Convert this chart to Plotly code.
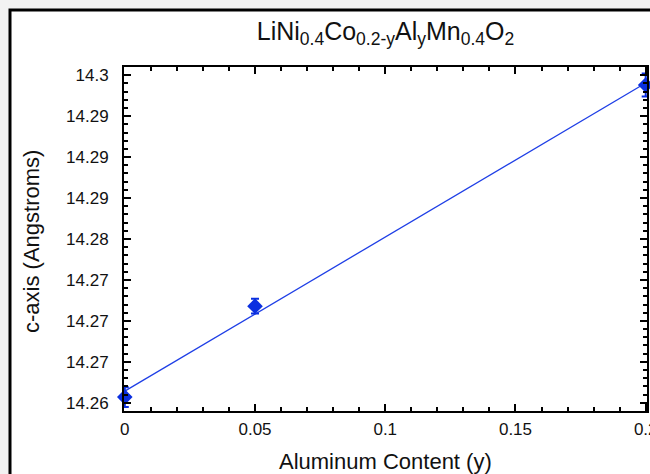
import numpy as np
import plotly.graph_objects as go

# Aluminium substitution level and refined c lattice parameter
al_content = [0.0, 0.05, 0.2]
c_axis = [14.2607, 14.2718, 14.2988]
c_err = [0.0012, 0.0009, 0.0014]

# y-axis tick positions and their printed labels (4 significant digits)
y_tickvals = [14.26, 14.265, 14.27, 14.275, 14.28, 14.285, 14.29, 14.295, 14.30]
y_ticktext = ["14.26", "14.27", "14.27", "14.27", "14.28", "14.29", "14.29", "14.29", "14.3"]
x_tickvals = [0, 0.05, 0.1, 0.15, 0.2]
x_ticktext = ["0", "0.05", "0.1", "0.15", "0.2"]

# least-squares straight line through the points
slope, intercept = np.polyfit(al_content, c_axis, 1)
fit_x = np.array([0.0, 0.2])
fit_y = slope * fit_x + intercept

BLUE = "#0a2fe0"
FONT = "Liberation Sans, Arial, sans-serif"

fig = go.Figure()
fig.add_trace(go.Scatter(
    x=fit_x, y=fit_y, mode="lines",
    line=dict(color="#1f3fe6", width=1.3),
    hoverinfo="skip", showlegend=False,
))
fig.add_trace(go.Scatter(
    x=al_content, y=c_axis, mode="markers",
    marker=dict(symbol="diamond", size=12, color=BLUE),
    error_y=dict(type="data", array=c_err, visible=True,
                 color=BLUE, thickness=2, width=4),
    showlegend=False, cliponaxis=False,
))

L, R, T, B = 124, 3, 67, 63
W, H = 650, 474
pw, ph = W - L - R, H - T - B

axis_common = dict(
    showline=True, linecolor="black", linewidth=2, mirror="ticks",
    ticks="inside", ticklen=7, tickwidth=1.5, tickcolor="black",
    showgrid=False, zeroline=False, automargin=False,
    tickfont=dict(family=FONT, size=17, color="#111"),
    ticklabeloverflow="allow",
)

fig.update_xaxes(
    **axis_common,
    range=[-0.0003, 0.2005],
    tickmode="array", tickvals=x_tickvals, ticktext=x_ticktext,
    ticklabelstandoff=2,
    minor=dict(dtick=0.01, tick0=0, ticks="inside", ticklen=4,
               tickwidth=1.5, tickcolor="black", showgrid=False),
)
fig.update_yaxes(
    **axis_common,
    range=[14.259, 14.301],
    tickmode="array", tickvals=y_tickvals, ticktext=y_ticktext,
    ticklabelstandoff=10,
    minor=dict(dtick=0.001, tick0=14.26, ticks="inside", ticklen=4,
               tickwidth=1.5, tickcolor="black", showgrid=False),
)

# axis titles placed in pixel terms relative to the plot area
fig.add_annotation(
    text="Aluminum Content (y)", xref="paper", yref="paper",
    x=(385 - L) / pw, y=(H - B - 461) / ph, showarrow=False,
    xanchor="center", yanchor="middle",
    font=dict(family=FONT, size=22, color="#111"),
)
fig.add_annotation(
    text="c-axis (Angstroms)", xref="paper", yref="paper",
    x=(31 - L) / pw, y=(H - B - 242) / ph, showarrow=False, textangle=-90,
    xanchor="center", yanchor="middle",
    font=dict(family=FONT, size=22, color="#111"),
)

# framed white panel behind the chart
fig.add_shape(
    type="rect", xref="paper", yref="paper", layer="below",
    x0=(10 - L) / pw, x1=(W + 40 - L) / pw,
    y0=(H - B - (H + 40)) / ph, y1=(H - B - 10) / ph,
    line=dict(color="black", width=3), fillcolor="white",
)

fig.update_layout(
    width=W, height=H,
    margin=dict(l=L, r=R, t=T, b=B),
    paper_bgcolor="#f2f2f2", plot_bgcolor="white",
    title=dict(
        text="LiNi<sub>0.4</sub>Co<sub>0.2-y</sub>Al<sub>y</sub>Mn<sub>0.4</sub>O<sub>2</sub>",
        font=dict(family=FONT, size=25, color="#111"),
        xref="paper", x=0.5, xanchor="center",
        yref="container", y=1 - 31 / H, yanchor="middle",
    ),
)

fig.write_html("out.html")
